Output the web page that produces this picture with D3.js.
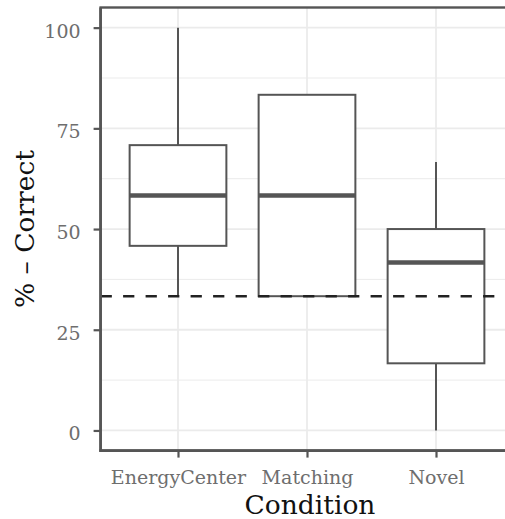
<!DOCTYPE html>
<html>
<head>
<meta charset="utf-8">
<script src="https://cdn.jsdelivr.net/npm/d3@7"></script>
<style>
  html, body { margin: 0; padding: 0; background: #fff; }
  svg { display: block; }
  text { font-family: "DejaVu Serif", "Liberation Serif", serif; }
</style>
</head>
<body>
<svg id="chart" width="505" height="519"></svg>
<script>
// ---- data ----
const categories = ["EnergyCenter", "Matching", "Novel"];
const lowerWhisker = [33.33, 33.33, 0];
const q1 = [45.83, 33.33, 16.67];
const median = [58.33, 58.33, 41.67];
const q3 = [70.83, 83.33, 50];
const upperWhisker = [100, 83.33, 66.67];
const chanceLevel = 33.33;
const yTicks = [0, 25, 50, 75, 100];
const yMinorTicks = [12.5, 37.5, 62.5, 87.5];
const xTitle = "Condition";
const yTitle = "% \u2013 Correct";

// ---- layout ----
const W = 505, H = 519;
const panel = { left: 100.6, right: 513.4, top: 7.5, bottom: 450.6 };

const svg = d3.select("#chart");

const x = d3.scalePoint().domain(categories).range([panel.left, panel.right]).padding(0.6);
const y = d3.scaleLinear().domain([-5, 105]).range([panel.bottom, panel.top]);
const boxW = x.step() * 0.75;

const boxes = categories.map((c, i) => ({
  cat: c, lo: lowerWhisker[i], q1: q1[i], med: median[i], q3: q3[i], hi: upperWhisker[i]
}));

const grid = svg.append("g");
// minor gridlines
grid.selectAll("line.minor").data(yMinorTicks).join("line")
  .attr("x1", panel.left).attr("x2", panel.right)
  .attr("y1", d => y(d)).attr("y2", d => y(d))
  .attr("stroke", "#ebebeb").attr("stroke-width", 1);
// major gridlines
grid.selectAll("line.major").data(yTicks).join("line")
  .attr("x1", panel.left).attr("x2", panel.right)
  .attr("y1", d => y(d)).attr("y2", d => y(d))
  .attr("stroke", "#ebebeb").attr("stroke-width", 1.8);
grid.selectAll("line.vx").data(categories).join("line")
  .attr("x1", d => x(d)).attr("x2", d => x(d))
  .attr("y1", panel.top).attr("y2", panel.bottom)
  .attr("stroke", "#ebebeb").attr("stroke-width", 1.8);

const stroke = "#555555";
const bg = svg.append("g").selectAll("g").data(boxes).join("g");
// whiskers
bg.append("line")
  .attr("x1", d => x(d.cat)).attr("x2", d => x(d.cat))
  .attr("y1", d => y(d.q3)).attr("y2", d => y(d.hi))
  .attr("stroke", stroke).attr("stroke-width", 2);
bg.append("line")
  .attr("x1", d => x(d.cat)).attr("x2", d => x(d.cat))
  .attr("y1", d => y(d.q1)).attr("y2", d => y(d.lo))
  .attr("stroke", stroke).attr("stroke-width", 2);
// box
bg.append("rect")
  .attr("x", d => x(d.cat) - boxW / 2).attr("width", boxW)
  .attr("y", d => y(d.q3)).attr("height", d => y(d.q1) - y(d.q3))
  .attr("fill", "#fff").attr("stroke", stroke).attr("stroke-width", 2);
// median
bg.append("line")
  .attr("x1", d => x(d.cat) - boxW / 2).attr("x2", d => x(d.cat) + boxW / 2)
  .attr("y1", d => y(d.med)).attr("y2", d => y(d.med))
  .attr("stroke", stroke).attr("stroke-width", 4.5);

// chance level dashed line
svg.append("line")
  .attr("x1", panel.left).attr("x2", panel.right)
  .attr("y1", y(chanceLevel)).attr("y2", y(chanceLevel))
  .attr("stroke", "#222").attr("stroke-width", 2.4)
  .attr("stroke-dasharray", "11.25,11.25");

// panel border (top/right)
svg.append("rect")
  .attr("x", panel.left).attr("y", panel.top)
  .attr("width", panel.right - panel.left).attr("height", panel.bottom - panel.top)
  .attr("fill", "none").attr("stroke", stroke).attr("stroke-width", 2.4);

// axes
const yAxis = d3.axisLeft(y).tickValues(yTicks).tickSize(7).tickPadding(13).tickFormat(d3.format("d"));
const xAxis = d3.axisBottom(x).tickSize(7).tickPadding(8);

const gy = svg.append("g").attr("transform", `translate(${panel.left},0)`).call(yAxis);
gy.select(".domain").remove();
gy.selectAll(".tick line").attr("stroke", stroke).attr("stroke-width", 2.2);
gy.selectAll(".tick text").attr("font-family", "DejaVu Serif").attr("font-size", 19)
  .attr("fill", "#6e6e6e").attr("dy", "0.5em");

const gx = svg.append("g").attr("transform", `translate(0,${panel.bottom})`).call(xAxis);
gx.select(".domain").remove();
gx.selectAll(".tick line").attr("stroke", stroke).attr("stroke-width", 2.2);
gx.selectAll(".tick text").attr("font-family", "DejaVu Serif").attr("font-size", 19)
  .attr("fill", "#6e6e6e").attr("dy", "0.96em");

// axis lines
svg.append("line").attr("x1", panel.left).attr("x2", panel.left)
  .attr("y1", panel.top).attr("y2", panel.bottom + 1.2)
  .attr("stroke", stroke).attr("stroke-width", 2.6);
svg.append("line").attr("x1", panel.left - 1.2).attr("x2", panel.right)
  .attr("y1", panel.bottom).attr("y2", panel.bottom)
  .attr("stroke", stroke).attr("stroke-width", 2.6);

// titles
svg.append("text")
  .attr("x", (panel.left + panel.right) / 2 + 3).attr("y", 514)
  .attr("text-anchor", "middle").attr("font-size", 26.5).attr("fill", "#111")
  .text(xTitle);
svg.append("text")
  .attr("transform", `translate(34,${(panel.top + panel.bottom) / 2}) rotate(-90)`)
  .attr("text-anchor", "middle").attr("font-size", 26.5).attr("fill", "#111")
  .text(yTitle);
</script>
</body>
</html>
